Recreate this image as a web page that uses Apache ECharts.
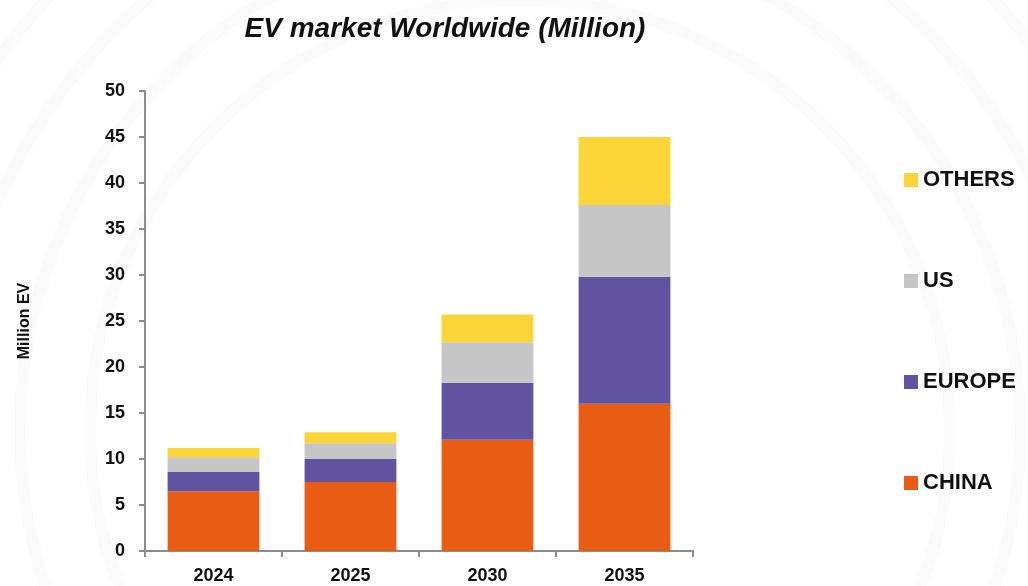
<!DOCTYPE html>
<html><head><meta charset="utf-8">
<script src="https://cdn.jsdelivr.net/npm/echarts@6/dist/echarts.min.js"></script>
<style>html,body{margin:0;padding:0;background:#fff}#c{width:1028px;height:586px}</style>
</head><body><div id="c"></div>
<script>
const categories = ['2024', '2025', '2030', '2035'];
const china = [6.5, 7.5, 12.1, 16.0];
const europe = [2.1, 2.5, 6.2, 13.8];
const us = [1.6, 1.7, 4.4, 7.8];
const others = [1.0, 1.2, 3.0, 7.4];
const yTicks = { min: 0, max: 50, interval: 5 };

const FONT = '"Liberation Sans", Arial, sans-serif';
const chart = echarts.init(document.getElementById('c'), null, { renderer: 'canvas' });

function s(name, data, color) {
  return { name, type: 'bar', stack: 'ev', data, barCategoryGap: '33%',
    itemStyle: { color }, emphasis: { disabled: true } };
}

const rings = [430, 500, 570, 640].map(r => ({
  type: 'circle', z: -10, silent: true,
  shape: { cx: 520, cy: 430, r },
  style: { fill: 'none', stroke: '#fafafa', lineWidth: 12 }
}));

chart.setOption({
  animation: false,
  backgroundColor: '#ffffff',
  graphic: rings,
  title: {
    text: 'EV market Worldwide (Million)', left: 440, top: 10, textAlign: 'center',
    textStyle: { fontFamily: FONT, fontSize: 28, fontWeight: 'bold', fontStyle: 'italic', color: '#111' }
  },
  legend: {
    data: ['OTHERS', 'US', 'EUROPE', 'CHINA'],
    orient: 'vertical', left: 899, top: 164, itemGap: 79,
    itemWidth: 14, itemHeight: 14, icon: 'rect',
    textStyle: { fontFamily: FONT, fontSize: 22, fontWeight: 'bold', color: '#111', padding: [0, 0, 0, 0] }
  },
  grid: { left: 145, right: 335, top: 91, bottom: 35, containLabel: false },
  xAxis: {
    type: 'category', data: categories,
    axisLine: { lineStyle: { color: '#8c8c8c', width: 2 } },
    axisTick: { show: true, length: 6, lineStyle: { color: '#8c8c8c', width: 2 } },
    axisLabel: { fontFamily: FONT, fontSize: 18, fontWeight: 'bold', color: '#111', margin: 16 }
  },
  yAxis: {
    type: 'value', min: yTicks.min, max: yTicks.max, interval: yTicks.interval,
    name: 'Million EV', nameLocation: 'middle', nameGap: 112, nameRotate: 90,
    nameTextStyle: { fontFamily: FONT, fontSize: 16, fontWeight: 'bold', color: '#111' },
    axisLine: { show: true, lineStyle: { color: '#8c8c8c', width: 2 } },
    axisTick: { show: true, length: 6, lineStyle: { color: '#8c8c8c', width: 2 } },
    splitLine: { show: false },
    axisLabel: { fontFamily: FONT, fontSize: 18, fontWeight: 'bold', color: '#111', margin: 20 }
  },
  series: [
    s('CHINA', china, '#E95C14'),
    s('EUROPE', europe, '#6153A0'),
    s('US', us, '#C6C6C6'),
    s('OTHERS', others, '#FBD437')
  ]
});
</script></body></html>
